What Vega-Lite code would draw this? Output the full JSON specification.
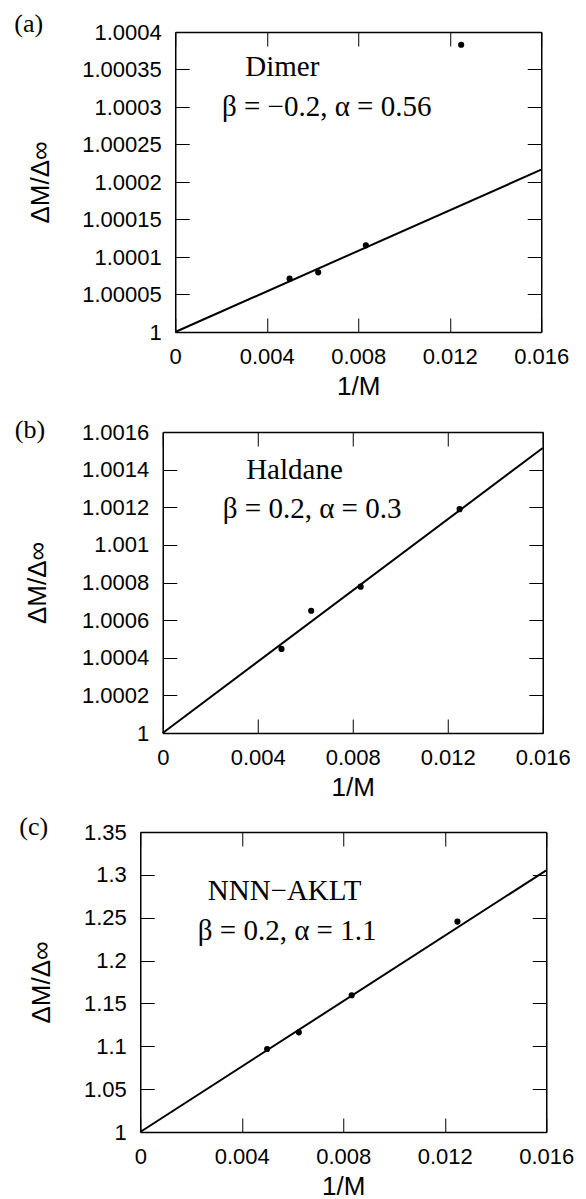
{
  "$schema": "https://vega.github.io/schema/vega-lite/v6.json",
  "background": "white",
  "padding": {"left": 14, "top": 11, "right": 0, "bottom": 0},
  "columns": 1,
  "align": "all",
  "center": true,
  "spacing": 14,
  "config": {
    "view": {"stroke": null},
    "axis": {
      "labelFont": "Liberation Sans", "labelFontSize": 22, "labelColor": "black",
      "titleFont": "Liberation Sans", "titleFontSize": 26, "titleFontWeight": "normal", "titleColor": "black",
      "domainColor": "black", "domainWidth": 1.5, "tickColor": "black", "tickWidth": 1, "tickSize": -14,
      "grid": false, "labelPadding": 28, "labelFlush": false, "labelOverlap": false
    },
    "axisX": {"titleFontSize": 26, "titlePadding": 6},
    "axisY": {"titleBaseline": "alphabetic"}
  },
  "concat": [
    {
      "width": 366, "height": 300,
      "title": {"text": "(a)", "anchor": "start", "frame": "group", "dx": -161, "dy": 37, "offset": 0, "baseline": "alphabetic", "font": "Liberation Serif", "fontSize": 26, "fontWeight": "normal", "color": "black"},
      "layer": [
        {
          "data": {"values": [{"x": 0, "y": 1}, {"x": 0.016, "y": 1.0002164}]},
          "mark": {"type": "line", "color": "black", "strokeWidth": 2},
          "encoding": {
            "x": {"field": "x", "type": "quantitative", "scale": {"domain": [0, 0.016], "nice": false, "zero": false},
              "axis": {"orient": "bottom", "values": [0, 0.004, 0.008, 0.012, 0.016], "format": "~g", "title": "1/M"}},
            "y": {"field": "y", "type": "quantitative", "scale": {"domain": [1, 1.0004], "nice": false, "zero": false},
              "axis": {"orient": "left", "values": [1, 1.00005, 1.0001, 1.00015, 1.0002, 1.00025, 1.0003, 1.00035, 1.0004], "format": "~g", "title": "ΔM/Δ∞", "titleX": -127}}
          }
        },
        {
          "data": {"values": [
            {"x": 0.005, "y": 1.0000711},
            {"x": 0.00625, "y": 1.0000796},
            {"x": 0.008333, "y": 1.0001156},
            {"x": 0.0125, "y": 1.000383}
          ]},
          "mark": {"type": "point", "filled": true, "color": "black", "size": 38, "opacity": 1, "strokeWidth": 0},
          "encoding": {
            "x": {"field": "x", "type": "quantitative", "scale": {"domain": [0, 0.016], "nice": false, "zero": false},
              "axis": {"orient": "top", "values": [0, 0.004, 0.008, 0.012, 0.016], "labels": false, "title": null}},
            "y": {"field": "y", "type": "quantitative", "scale": {"domain": [1, 1.0004], "nice": false, "zero": false},
              "axis": {"orient": "right", "values": [1, 1.00005, 1.0001, 1.00015, 1.0002, 1.00025, 1.0003, 1.00035, 1.0004], "labels": false, "title": null}}
          }
        },
        {
          "data": {"values": [{}]},
          "mark": {"type": "text", "font": "Liberation Serif", "fontSize": 29, "align": "left", "baseline": "alphabetic", "color": "black"},
          "encoding": {
            "x": {"datum": 0.00306, "type": "quantitative", "axis": null},
            "y": {"datum": 1.0003417, "type": "quantitative", "axis": null},
            "text": {"value": "Dimer"}
          }
        },
        {
          "data": {"values": [{}]},
          "mark": {"type": "text", "font": "Liberation Serif", "fontSize": 29, "align": "left", "baseline": "alphabetic", "color": "black"},
          "encoding": {
            "x": {"datum": 0.002042, "type": "quantitative", "axis": null},
            "y": {"datum": 1.000288, "type": "quantitative", "axis": null},
            "text": {"value": "β = −0.2, α = 0.56"}
          }
        }
      ],
      "resolve": {"axis": {"x": "independent", "y": "independent"}}
    },
    {
      "width": 380, "height": 301,
      "title": {"text": "(b)", "anchor": "start", "frame": "group", "dx": -148, "dy": 43, "offset": 0, "baseline": "alphabetic", "font": "Liberation Serif", "fontSize": 26, "fontWeight": "normal", "color": "black"},
      "layer": [
        {
          "data": {"values": [{"x": 0, "y": 1}, {"x": 0.016, "y": 1.001515}]},
          "mark": {"type": "line", "color": "black", "strokeWidth": 2},
          "encoding": {
            "x": {"field": "x", "type": "quantitative", "scale": {"domain": [0, 0.016], "nice": false, "zero": false},
              "axis": {"orient": "bottom", "values": [0, 0.004, 0.008, 0.012, 0.016], "format": "~g", "title": "1/M"}},
            "y": {"field": "y", "type": "quantitative", "scale": {"domain": [1, 1.0016], "nice": false, "zero": false},
              "axis": {"orient": "left", "values": [1, 1.0002, 1.0004, 1.0006, 1.0008, 1.001, 1.0012, 1.0014, 1.0016], "format": "~g", "title": "ΔM/Δ∞", "titleX": -117}}
          }
        },
        {
          "data": {"values": [
            {"x": 0.005, "y": 1.000447},
            {"x": 0.00625, "y": 1.00065},
            {"x": 0.008333, "y": 1.000778},
            {"x": 0.0125, "y": 1.00119}
          ]},
          "mark": {"type": "point", "filled": true, "color": "black", "size": 38, "opacity": 1, "strokeWidth": 0},
          "encoding": {
            "x": {"field": "x", "type": "quantitative", "scale": {"domain": [0, 0.016], "nice": false, "zero": false},
              "axis": {"orient": "top", "values": [0, 0.004, 0.008, 0.012, 0.016], "labels": false, "title": null}},
            "y": {"field": "y", "type": "quantitative", "scale": {"domain": [1, 1.0016], "nice": false, "zero": false},
              "axis": {"orient": "right", "values": [1, 1.0002, 1.0004, 1.0006, 1.0008, 1.001, 1.0012, 1.0014, 1.0016], "labels": false, "title": " ", "titleFontSize": 1, "titlePadding": 37}}
          }
        },
        {
          "data": {"values": [{}]},
          "mark": {"type": "text", "font": "Liberation Serif", "fontSize": 29, "align": "left", "baseline": "alphabetic", "color": "black"},
          "encoding": {
            "x": {"datum": 0.003511, "type": "quantitative", "axis": null},
            "y": {"datum": 1.0013518, "type": "quantitative", "axis": null},
            "text": {"value": "Haldane"}
          }
        },
        {
          "data": {"values": [{}]},
          "mark": {"type": "text", "font": "Liberation Serif", "fontSize": 29, "align": "left", "baseline": "alphabetic", "color": "black"},
          "encoding": {
            "x": {"datum": 0.002529, "type": "quantitative", "axis": null},
            "y": {"datum": 1.0011445, "type": "quantitative", "axis": null},
            "text": {"value": "β = 0.2, α = 0.3"}
          }
        }
      ],
      "resolve": {"axis": {"x": "independent", "y": "independent"}}
    },
    {
      "width": 406, "height": 300,
      "title": {"text": "(c)", "anchor": "start", "frame": "group", "dx": -121, "dy": 40, "offset": 0, "baseline": "alphabetic", "font": "Liberation Serif", "fontSize": 26, "fontWeight": "normal", "color": "black"},
      "layer": [
        {
          "data": {"values": [{"x": 0, "y": 1}, {"x": 0.016, "y": 1.3053}]},
          "mark": {"type": "line", "color": "black", "strokeWidth": 2},
          "encoding": {
            "x": {"field": "x", "type": "quantitative", "scale": {"domain": [0, 0.016], "nice": false, "zero": false},
              "axis": {"orient": "bottom", "values": [0, 0.004, 0.008, 0.012, 0.016], "format": "~g", "title": "1/M"}},
            "y": {"field": "y", "type": "quantitative", "scale": {"domain": [1, 1.35], "nice": false, "zero": false},
              "axis": {"orient": "left", "values": [1, 1.05, 1.1, 1.15, 1.2, 1.25, 1.3, 1.35], "format": "~g", "title": "ΔM/Δ∞", "titleX": -91}}
          }
        },
        {
          "data": {"values": [
            {"x": 0.005, "y": 1.0968},
            {"x": 0.00625, "y": 1.1163},
            {"x": 0.008333, "y": 1.1595},
            {"x": 0.0125, "y": 1.2455}
          ]},
          "mark": {"type": "point", "filled": true, "color": "black", "size": 38, "opacity": 1, "strokeWidth": 0},
          "encoding": {
            "x": {"field": "x", "type": "quantitative", "scale": {"domain": [0, 0.016], "nice": false, "zero": false},
              "axis": {"orient": "top", "values": [0, 0.004, 0.008, 0.012, 0.016], "labels": false, "title": null}},
            "y": {"field": "y", "type": "quantitative", "scale": {"domain": [1, 1.35], "nice": false, "zero": false},
              "axis": {"orient": "right", "values": [1, 1.05, 1.1, 1.15, 1.2, 1.25, 1.3, 1.35], "labels": false, "title": " ", "titleFontSize": 1, "titlePadding": 56}}
          }
        },
        {
          "data": {"values": [{}]},
          "mark": {"type": "text", "font": "Liberation Serif", "fontSize": 29, "align": "left", "baseline": "alphabetic", "color": "black"},
          "encoding": {
            "x": {"datum": 0.00266, "type": "quantitative", "axis": null},
            "y": {"datum": 1.2703, "type": "quantitative", "axis": null},
            "text": {"value": "NNN−AKLT"}
          }
        },
        {
          "data": {"values": [{}]},
          "mark": {"type": "text", "font": "Liberation Serif", "fontSize": 29, "align": "left", "baseline": "alphabetic", "color": "black"},
          "encoding": {
            "x": {"datum": 0.002267, "type": "quantitative", "axis": null},
            "y": {"datum": 1.2237, "type": "quantitative", "axis": null},
            "text": {"value": "β = 0.2, α = 1.1"}
          }
        }
      ],
      "resolve": {"axis": {"x": "independent", "y": "independent"}}
    }
  ]
}
